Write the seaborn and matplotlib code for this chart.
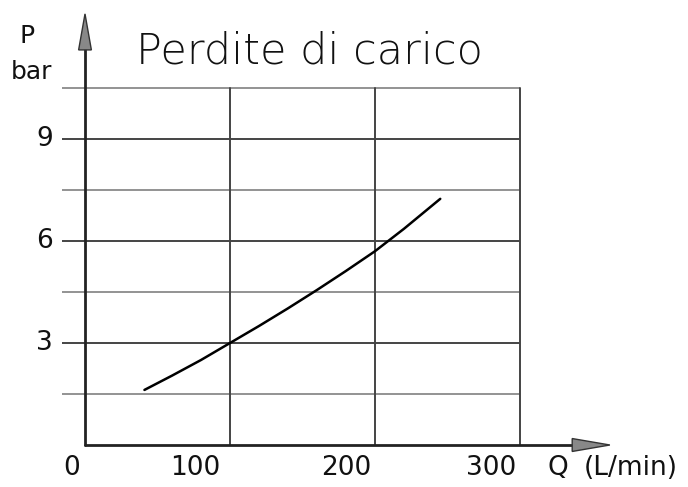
import matplotlib
matplotlib.use("Agg")
import matplotlib.pyplot as plt
import seaborn as sns
import pandas as pd
from matplotlib.patches import Polygon

sns.set_theme(style="white")
plt.rcParams['font.family'] = ['DejaVu Sans']

# Data
flow = [41, 60, 80, 100, 120, 140, 160, 180, 200, 220, 245]
pressure = [1.62, 2.04, 2.5, 3.0, 3.5, 4.02, 4.56, 5.12, 5.7, 6.36, 7.24]
x_ticks = [0, 100, 200, 300]
x_labels = ["0", "100", "200", "300"]
y_ticks = [3, 6, 9]
y_labels = ["3", "6", "9"]
h_grid = [1.5, 3, 4.5, 6, 7.5, 9, 10.5]
title = "Perdite di carico"

df = pd.DataFrame({"Q": flow, "P": pressure})

W, H = 688, 487
fig = plt.figure(figsize=(W / 100, H / 100), dpi=100)
left, right, bottom, top = 85, 520, 445, 88
ax = fig.add_axes([left / W, 1 - bottom / H, (right - left) / W, (bottom - top) / H])
ax.set_xlim(0, 300)
ax.set_ylim(0, 10.5)
for s in ax.spines.values():
    s.set_visible(False)
ax.set_xticks([])
ax.set_yticks([])
ax.patch.set_alpha(0)

# grid
for yv in h_grid:
    dark = yv in y_ticks
    ax.plot([-16, 300], [yv, yv], color="#444444" if dark else "#8a8a8a",
            lw=1.4 if dark else 1.3, clip_on=False, zorder=1, solid_capstyle="butt")
for xv in x_ticks[1:]:
    ax.plot([xv, xv], [0, 10.5], color="#444444", lw=1.4, clip_on=False, zorder=1)

# curve
sns.lineplot(data=df, x="Q", y="P", ax=ax, color="black", lw=1.8, zorder=3)
ax.set_xlabel("")
ax.set_ylabel("")

# axes with arrows
ax.plot([0, 340], [0, 0], color="#222222", lw=2, clip_on=False, zorder=2)
ax.plot([0, 0], [0, 11.7], color="#222222", lw=2, clip_on=False, zorder=2)
ax.add_patch(Polygon([[336, -0.19], [362, 0], [336, 0.19]], closed=True,
                     facecolor="#888888", edgecolor="#333333", lw=1, clip_on=False, zorder=4))
ax.add_patch(Polygon([[-4.4, 11.62], [0, 12.68], [4.4, 11.62]], closed=True,
                     facecolor="#888888", edgecolor="#333333", lw=1, clip_on=False, zorder=4))

# labels
fs = 19
label_x = [-9, 76, 180, 280]
ly = -0.68
txt = dict(color="#111111", clip_on=False)
for lx, lab in zip(label_x, x_labels):
    ax.text(lx, ly, lab, ha="center", va="center", fontsize=fs, **txt)
ax.text(319, ly, "Q", ha="left", va="center", fontsize=fs, **txt)
ax.text(344, ly, "(L/min)", ha="left", va="center", fontsize=fs, **txt)
for yv, lab in zip(y_ticks, y_labels):
    ax.text(-28, yv, lab, ha="center", va="center", fontsize=fs, **txt)
ax.text(-40, 12.03, "P", ha="center", va="center", fontsize=18, **txt)
ax.text(-37, 10.97, "bar", ha="center", va="center", fontsize=18, **txt)
ax.text(155, 11.6, title, ha="center", va="center", fontsize=31, fontweight="light", **txt)

fig.savefig("out.png", dpi=100)
